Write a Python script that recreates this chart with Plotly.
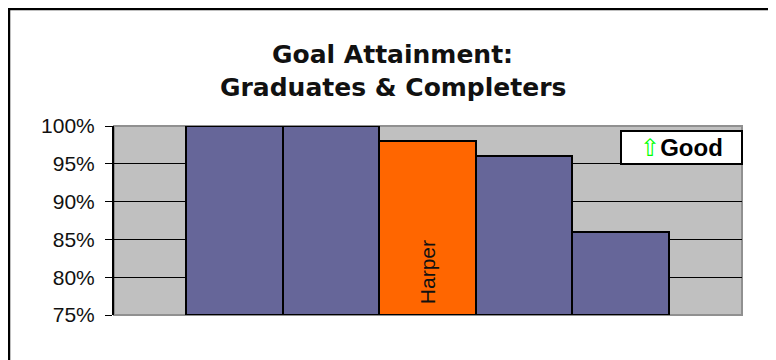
import plotly.graph_objects as go

categories = ["A", "B", "Harper", "D", "E"]
values = [100, 100, 98, 96, 86]
colors = ["#666699", "#666699", "#FF6600", "#666699", "#666699"]
tick_vals = [75, 80, 85, 90, 95, 100]
tick_text = ["75%", "80%", "85%", "90%", "95%", "100%"]
title_lines = ["Goal Attainment:", "Graduates & Completers"]

W, H = 768, 352
L, T = 106, 118
PR, PB = 734, 307          # plot right / bottom in figure px
R, B = W - PR, H - PB
pw = PR - L
ph = PB - T


def px(x):
    return (x - L) / pw


def py(y):
    return (PB - y) / ph


fig = go.Figure()
fig.add_trace(go.Bar(
    x=list(range(len(categories))),
    y=[v - 75 for v in values],
    base=75,
    width=1.0,
    marker=dict(color=colors, line=dict(color="black", width=2)),
    hoverinfo="skip",
))

fig.update_layout(
    width=W, height=H,
    margin=dict(l=L, r=R, t=T, b=B),
    paper_bgcolor="white",
    plot_bgcolor="#C0C0C0",
    showlegend=False,
    bargap=0,
    xaxis=dict(
        range=[-1.245, 5.255], showticklabels=False, showgrid=False,
        zeroline=False, ticks="", showline=False, fixedrange=True,
    ),
    yaxis=dict(
        range=[75, 100], tickvals=tick_vals, ticktext=tick_text,
        showgrid=True, gridcolor="black", gridwidth=1,
        zeroline=False, showline=True, linecolor="black", linewidth=2,
        ticks="outside", ticklen=7, tickcolor="black", tickwidth=1,
        ticklabelstandoff=6,
        tickfont=dict(family="Liberation Sans, Arial", size=21, color="#111111"),
        fixedrange=True,
    ),
    shapes=[
        dict(type="rect", xref="paper", yref="paper", x0=0, x1=1, y0=0, y1=1,
             line=dict(color="#909090", width=2), layer="below"),
        dict(type="rect", xref="paper", yref="paper",
             x0=px(1), x1=px(762), y0=py(1), y1=py(H + 40),
             line=dict(color="black", width=2.5), fillcolor="rgba(0,0,0,0)"),
    ],
    annotations=[
        dict(
            x=px(384.5), y=py(46), xref="paper", yref="paper",
            text="<b>" + title_lines[0] + "</b>", showarrow=False,
            xanchor="center", yanchor="middle",
            font=dict(family="DejaVu Sans", size=25, color="#111111"),
        ),
        dict(
            x=px(384.5), y=py(80), xref="paper", yref="paper",
            text="<b>" + title_lines[1] + "</b>", showarrow=False,
            xanchor="center", yanchor="middle",
            font=dict(family="DejaVu Sans", size=25, color="#111111"),
        ),
        dict(
            x=2, y=80.6, xref="x", yref="y",
            text="Harper", textangle=-90, showarrow=False,
            font=dict(family="Liberation Sans, Arial", size=21, color="#111111"),
            xanchor="center", yanchor="middle",
        ),
        dict(
            x=px(735), y=py(122), xref="paper", yref="paper",
            xanchor="right", yanchor="top",
            text="<span style='color:#00FF00'>⇧</span><b>Good</b>",
            showarrow=False, bgcolor="white", bordercolor="black", borderwidth=2,
            width=117, height=29, align="center",
            font=dict(family="Liberation Sans, Arial", size=24, color="black"),
        ),
    ],
)

fig.write_html("out.html")
